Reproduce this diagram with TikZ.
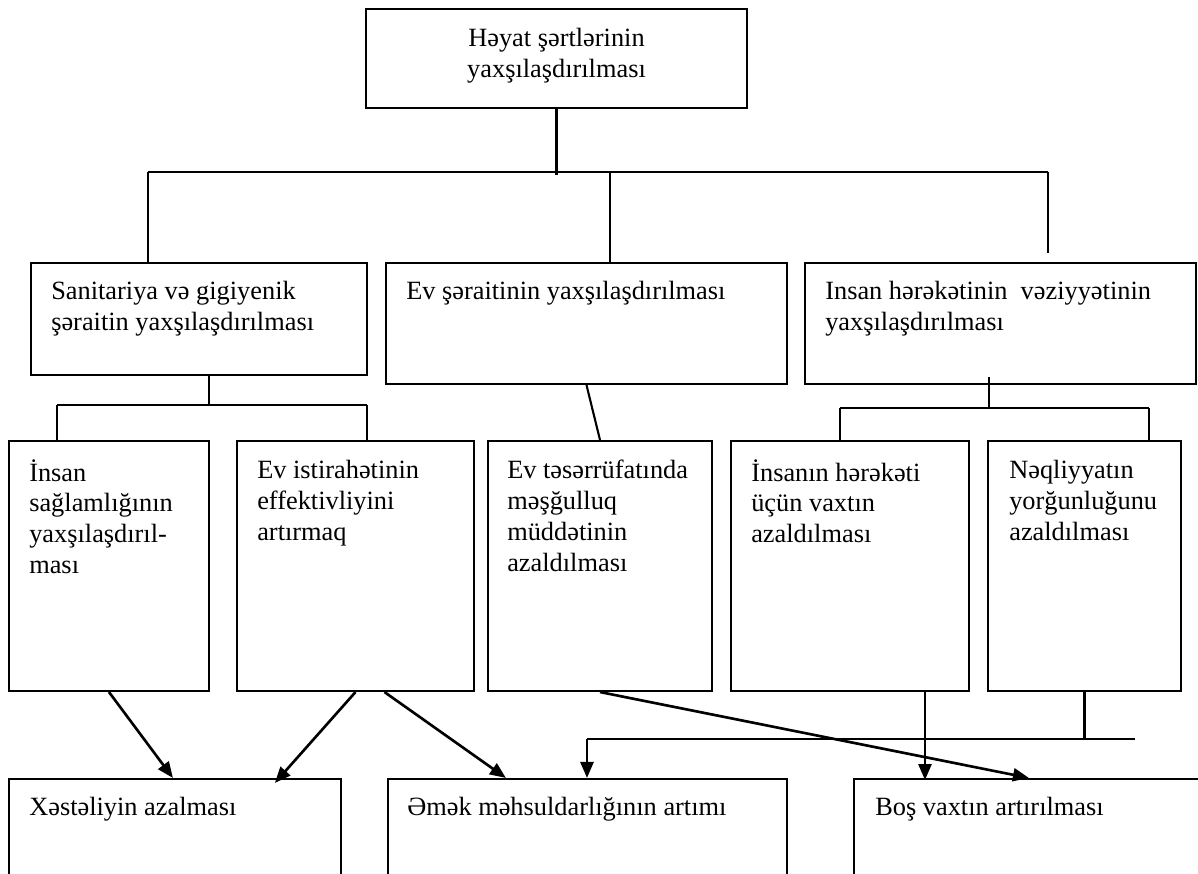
\documentclass[tikz,border=0pt]{standalone}
\usepackage{fontspec}
\setmainfont{Liberation Serif}
\usetikzlibrary{arrows.meta,positioning}
\tikzset{
  blok/.style 2 args={draw, line width=1.2pt, minimum width=#1*0.02cm, minimum height=#2*0.02cm, inner sep=0pt},
  yazi/.style={inner sep=0pt, align=left, font=\fontsize{15}{17.6}\selectfont},
  xett/.style={line width=1.2pt},
  arrow/.style={-{Triangle[length=0.32cm,width=0.26cm]}, line width=1.5pt}
}

\begin{document}
\begin{tikzpicture}[x=0.02cm, y=-0.02cm]
  \clip (0,0) rectangle (1198,874);

  \node[blok={381}{99}] (heyat) at (556.5,58.5) {};
  \node[yazi, align=center, below=0.4cm of heyat.north] (heyat-t) {Həyat şərtlərinin\\yaxşılaşdırılması};

  \node[blok={336}{112}] (sanitar) at (199,319) {};
  \node[blok={401}{121}] (evsert) at (586.5,323.5) {};
  \node[blok={391}{121}] (herekt) at (1000.5,323.5) {};
  \node[yazi, below right=0.38cm and 0.42cm of sanitar.north west] (sanitar-t) {Sanitariya və gigiyenik\\şəraitin yaxşılaşdırılması};
  \node[yazi, below right=0.38cm and 0.42cm of evsert.north west] (evsert-t) {Ev şəraitinin yaxşılaşdırılması};
  \node[yazi, below right=0.38cm and 0.42cm of herekt.north west] (herekt-t) {Insan hərəkətinin~ vəziyyətinin\\yaxşılaşdırılması};

  \node[blok={200}{250}] (saglam) at (109,566) {};
  \node[blok={237}{250}] (istirah) at (355.5,566) {};
  \node[blok={224}{250}] (teserr) at (600,566) {};
  \node[blok={238}{250}] (vaxt) at (850,566) {};
  \node[blok={193}{250}] (neqliy) at (1084.5,566) {};
  \node[yazi, below right=0.38cm and 0.42cm of saglam.north west] (saglam-t) {İnsan\\sağlamlığının\\yaxşılaşdırıl-\\ması};
  \node[yazi, below right=0.4cm and 0.42cm of istirah.north west] (istirah-t) {Ev istirahətinin\\effektivliyini\\artırmaq};
  \node[yazi, below right=0.4cm and 0.4cm of teserr.north west] (teserr-t) {Ev təsərrüfatında\\məşğulluq\\müddətinin\\azaldılması};
  \node[yazi, below right=0.38cm and 0.42cm of vaxt.north west] (vaxt-t) {İnsanın hərəkəti\\üçün vaxtın\\azaldılması};
  \node[yazi, below right=0.4cm and 0.44cm of neqliy.north west] (neqliy-t) {Nəqliyyatın\\yorğunluğunu\\azaldılması};

  \node[blok={332}{130}] (xeste) at (175,844) {};
  \node[blok={399}{130}] (emek) at (587.5,844) {};
  \node[blok={386}{130}] (bos) at (1047,844) {};
  \node[yazi, below right=0.38cm and 0.42cm of xeste.north west] (xeste-t) {Xəstəliyin azalması};
  \node[yazi, below right=0.38cm and 0.4cm of emek.north west] (emek-t) {Əmək məhsuldarlığının artımı};
  \node[yazi, below right=0.38cm and 0.44cm of bos.north west] (bos-t) {Boş vaxtın artırılması};

  \coordinate (bus1L) at (148,172);
  \coordinate (bus1M) at (610,172);
  \coordinate (bus1R) at (1048,172);
  \draw[xett] (heyat.south) -- ++(0,66);
  \draw[xett] (bus1L) -- (bus1R);
  \draw[xett] (bus1L) -- (bus1L |- sanitar.north);
  \draw[xett] (bus1M) -- (bus1M |- evsert.north);
  \draw[xett] (bus1R) -- ++(0,81);

  \coordinate (bus2L) at (57,405);
  \coordinate (bus2R) at (367,405);
  \draw[xett] ([xshift=0.2cm]sanitar.south) -- ++(0,30);
  \draw[xett] (bus2L) -- (bus2R);
  \draw[xett] (bus2L) -- (bus2L |- saglam.north);
  \draw[xett] (bus2R) -- (bus2R |- istirah.north);

  \draw[xett] (evsert.south) -- (teserr.north);

  \coordinate (bus3L) at (840,408);
  \coordinate (bus3R) at (1149,408);
  \draw[xett] ([xshift=-0.23cm,yshift=0.16cm]herekt.south) -- ++(0,32);
  \draw[xett] (bus3L) -- (bus3R);
  \draw[xett] (bus3L) -- (bus3L |- vaxt.north);
  \draw[xett] (bus3R) -- (bus3R |- neqliy.north);

  \draw[arrow] (saglam.south) -- ([xshift=3.3cm]xeste.north west);
  \draw[arrow] (istirah.south) -- ([xshift=5.34cm,yshift=-0.1cm]xeste.north west);
  \draw[arrow] ([xshift=0.58cm]istirah.south) -- ([xshift=2.38cm]emek.north west);
  \draw[arrow] (teserr.south) -- ([xshift=3.52cm]bos.north west);
  \draw[arrow] ([xshift=1.5cm]vaxt.south) -- ++(0,88);

  \coordinate (bus4M) at (1086,739);
  \coordinate (bus4R) at (1135,739);
  \coordinate (bus4L) at (587,739);
  \draw[xett] (neqliy.south) -- (neqliy.south |- bus4M);
  \draw[xett] (bus4R) -- (bus4L);
  \draw[arrow] (bus4L) -- (bus4L |- emek.north);
\end{tikzpicture}
\end{document}
